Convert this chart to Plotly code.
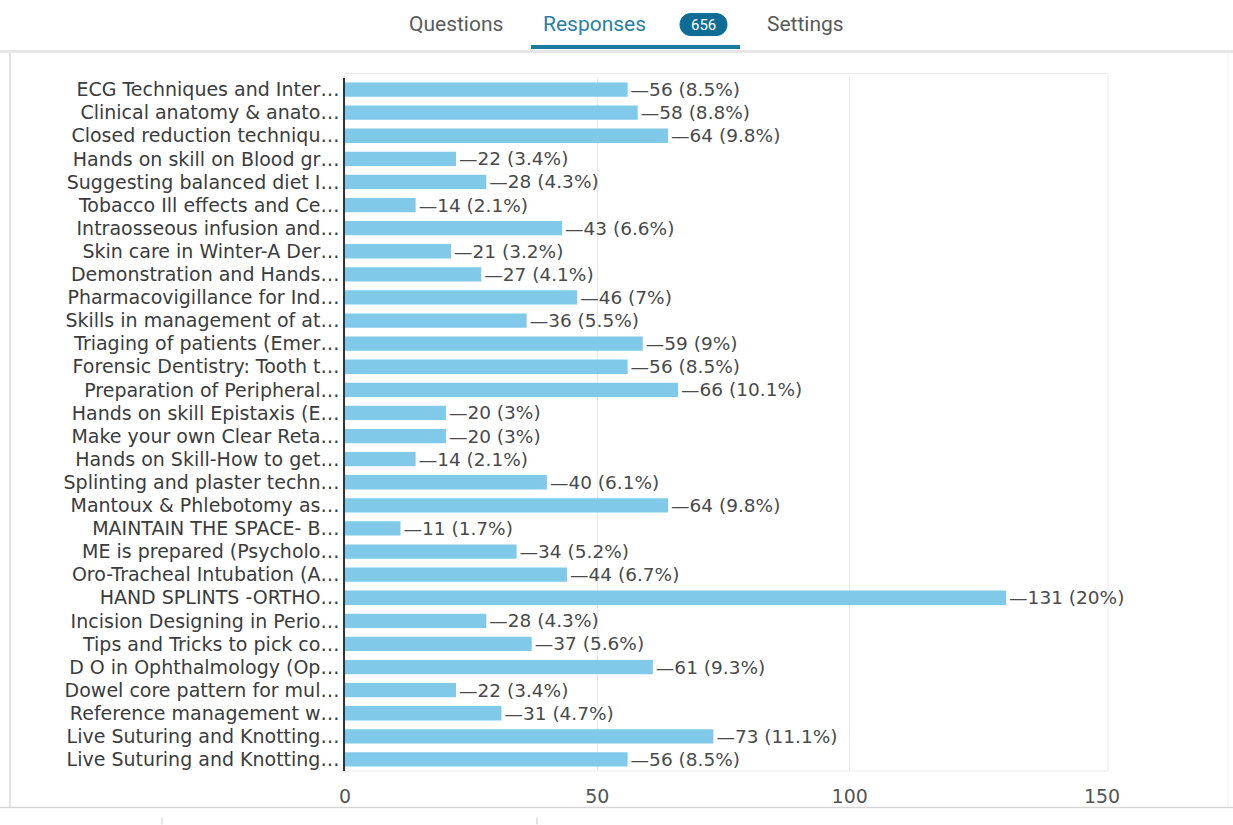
import plotly.graph_objects as go

categories = [
    "ECG Techniques and Inter…",
    "Clinical anatomy & anato…",
    "Closed reduction techniqu…",
    "Hands on skill on Blood gr…",
    "Suggesting balanced diet I…",
    "Tobacco Ill effects and Ce…",
    "Intraosseous infusion and…",
    "Skin care in Winter-A Der…",
    "Demonstration and Hands…",
    "Pharmacovigillance for Ind…",
    "Skills in management of at…",
    "Triaging of patients (Emer…",
    "Forensic Dentistry: Tooth t…",
    "Preparation of Peripheral…",
    "Hands on skill Epistaxis (E…",
    "Make your own Clear Reta…",
    "Hands on Skill-How to get…",
    "Splinting and plaster techn…",
    "Mantoux & Phlebotomy as…",
    "MAINTAIN THE SPACE- B…",
    "ME is prepared (Psycholo…",
    "Oro-Tracheal Intubation (A…",
    "HAND SPLINTS -ORTHO…",
    "Incision Designing in Perio…",
    "Tips and Tricks to pick co…",
    "D O in Ophthalmology (Op…",
    "Dowel core pattern for mul…",
    "Reference management w…",
    "Live Suturing and Knotting…",
    "Live Suturing and Knotting…",
]
counts = [56, 58, 64, 22, 28, 14, 43, 21, 27, 46, 36, 59, 56, 66, 20, 20, 14, 40, 64, 11,
          34, 44, 131, 28, 37, 61, 22, 31, 73, 56]
percents = ["8.5%", "8.8%", "9.8%", "3.4%", "4.3%", "2.1%", "6.6%", "3.2%", "4.1%", "7%",
            "5.5%", "9%", "8.5%", "10.1%", "3%", "3%", "2.1%", "6.1%", "9.8%", "1.7%",
            "5.2%", "6.7%", "20%", "4.3%", "5.6%", "9.3%", "3.4%", "4.7%", "11.1%", "8.5%"]
x_ticks = [0, 50, 100, 150]
tabs = ["Questions", "Responses", "Settings"]
total_responses = "656"

W, H = 1233, 825
L, R, T, B = 345, 1102, 77.5, 771.5

def px(x):
    return (x - L) / (R - L)

def py(y):
    return (B - y) / (B - T)

FONT = "DejaVu Sans"
TXT = "#3c3c3c"

ykeys = list(range(len(categories)))

fig = go.Figure()
fig.add_trace(go.Bar(
    x=counts, y=ykeys, orientation="h",
    marker=dict(color="#80c9e9", line=dict(width=0)),
    text=[f"—{c} ({p})" for c, p in zip(counts, percents)],
    textposition="outside", cliponaxis=False, constraintext="none",
    textfont=dict(family=FONT, size=18.5, color="#4a4a4a"),
    hoverinfo="skip",
))

# rounded pill path for the badge (pixel coords -> paper)
bx0, bx1, by0, by1 = 680, 727, 13, 35
r = (by1 - by0) / 2
pts = [
    f"M {px(bx0 + r)},{py(by0)}",
    f"L {px(bx1 - r)},{py(by0)}",
    f"C {px(bx1 + r * 0.33)},{py(by0)} {px(bx1 + r * 0.33)},{py(by1)} {px(bx1 - r)},{py(by1)}",
    f"L {px(bx0 + r)},{py(by1)}",
    f"C {px(bx0 - r * 0.33)},{py(by1)} {px(bx0 - r * 0.33)},{py(by0)} {px(bx0 + r)},{py(by0)}",
    "Z",
]
badge_path = " ".join(pts)

shapes = [
    dict(type="line", xref="paper", yref="paper", x0=px(10), x1=px(10), y0=py(52), y1=py(808),
         line=dict(color="#dfe6ea", width=2)),
    dict(type="line", xref="paper", yref="paper", x0=px(1228), x1=px(1228), y0=py(52), y1=py(808),
         line=dict(color="#eeeeee", width=1)),
    dict(type="line", xref="paper", yref="paper", x0=px(0), x1=px(1233), y0=py(808), y1=py(808),
         line=dict(color="#d5d5d5", width=1.5)),
    dict(type="line", xref="paper", yref="paper", x0=px(0), x1=px(1233), y0=py(51), y1=py(51),
         line=dict(color="#e6e6e6", width=3)),
    dict(type="line", xref="paper", yref="paper", x0=px(531), x1=px(740), y0=py(46.5), y1=py(46.5),
         line=dict(color="#1b7aa0", width=4)),
    dict(type="path", xref="paper", yref="paper", path=badge_path,
         fillcolor="#0f6c94", line=dict(color="#0f6c94", width=1), layer="above"),
    dict(type="rect", xref="paper", yref="paper", x0=0, x1=px(1108), y0=0, y1=py(73),
         line=dict(color="#ececec", width=1), layer="below"),
    dict(type="line", xref="paper", yref="paper", x0=px(162), x1=px(162), y0=py(818), y1=py(825),
         line=dict(color="#cccccc", width=1)),
    dict(type="line", xref="paper", yref="paper", x0=px(537), x1=px(537), y0=py(818), y1=py(825),
         line=dict(color="#cccccc", width=1)),
]

def ann(text, x, y, size, color):
    return dict(text=text, x=px(x), y=py(y), xref="paper", yref="paper", showarrow=False,
                xanchor="center", yanchor="middle",
                font=dict(family="Roboto", size=size, color=color))

annotations = [
    ann(tabs[0], 456, 23, 21, "#5a5a5a"),
    ann(tabs[1], 594, 23, 21, "#2a7fa4"),
    ann(total_responses, 703.5, 24, 15, "white"),
    ann(tabs[2], 805, 23, 21, "#5a5a5a"),
]

fig.update_layout(
    width=W, height=H,
    margin=dict(l=L, r=W - R, t=T, b=H - B, pad=0),
    paper_bgcolor="white", plot_bgcolor="white",
    showlegend=False, bargap=0.38,
    shapes=shapes, annotations=annotations,
    xaxis=dict(range=[0, 150], tickvals=x_ticks, ticktext=[str(v) for v in x_ticks],
               showgrid=True, gridcolor="#e8e8e8", gridwidth=1,
               zeroline=False, showline=False, ticks="",
               tickfont=dict(family=FONT, size=19, color="#555555"),
               ticklabelstandoff=12, fixedrange=True),
    yaxis=dict(tickvals=ykeys, ticktext=categories, autorange="reversed",
               showgrid=False, zeroline=False, showline=True, linecolor="#333333", linewidth=1.5,
               ticks="", ticklabelstandoff=0,
               tickfont=dict(family=FONT, size=19, color=TXT), fixedrange=True),
    font=dict(family=FONT),
)

fig.write_html("out.html", config={"displayModeBar": False},
               post_script="document.body.style.margin='0';document.body.style.overflow='hidden';")
